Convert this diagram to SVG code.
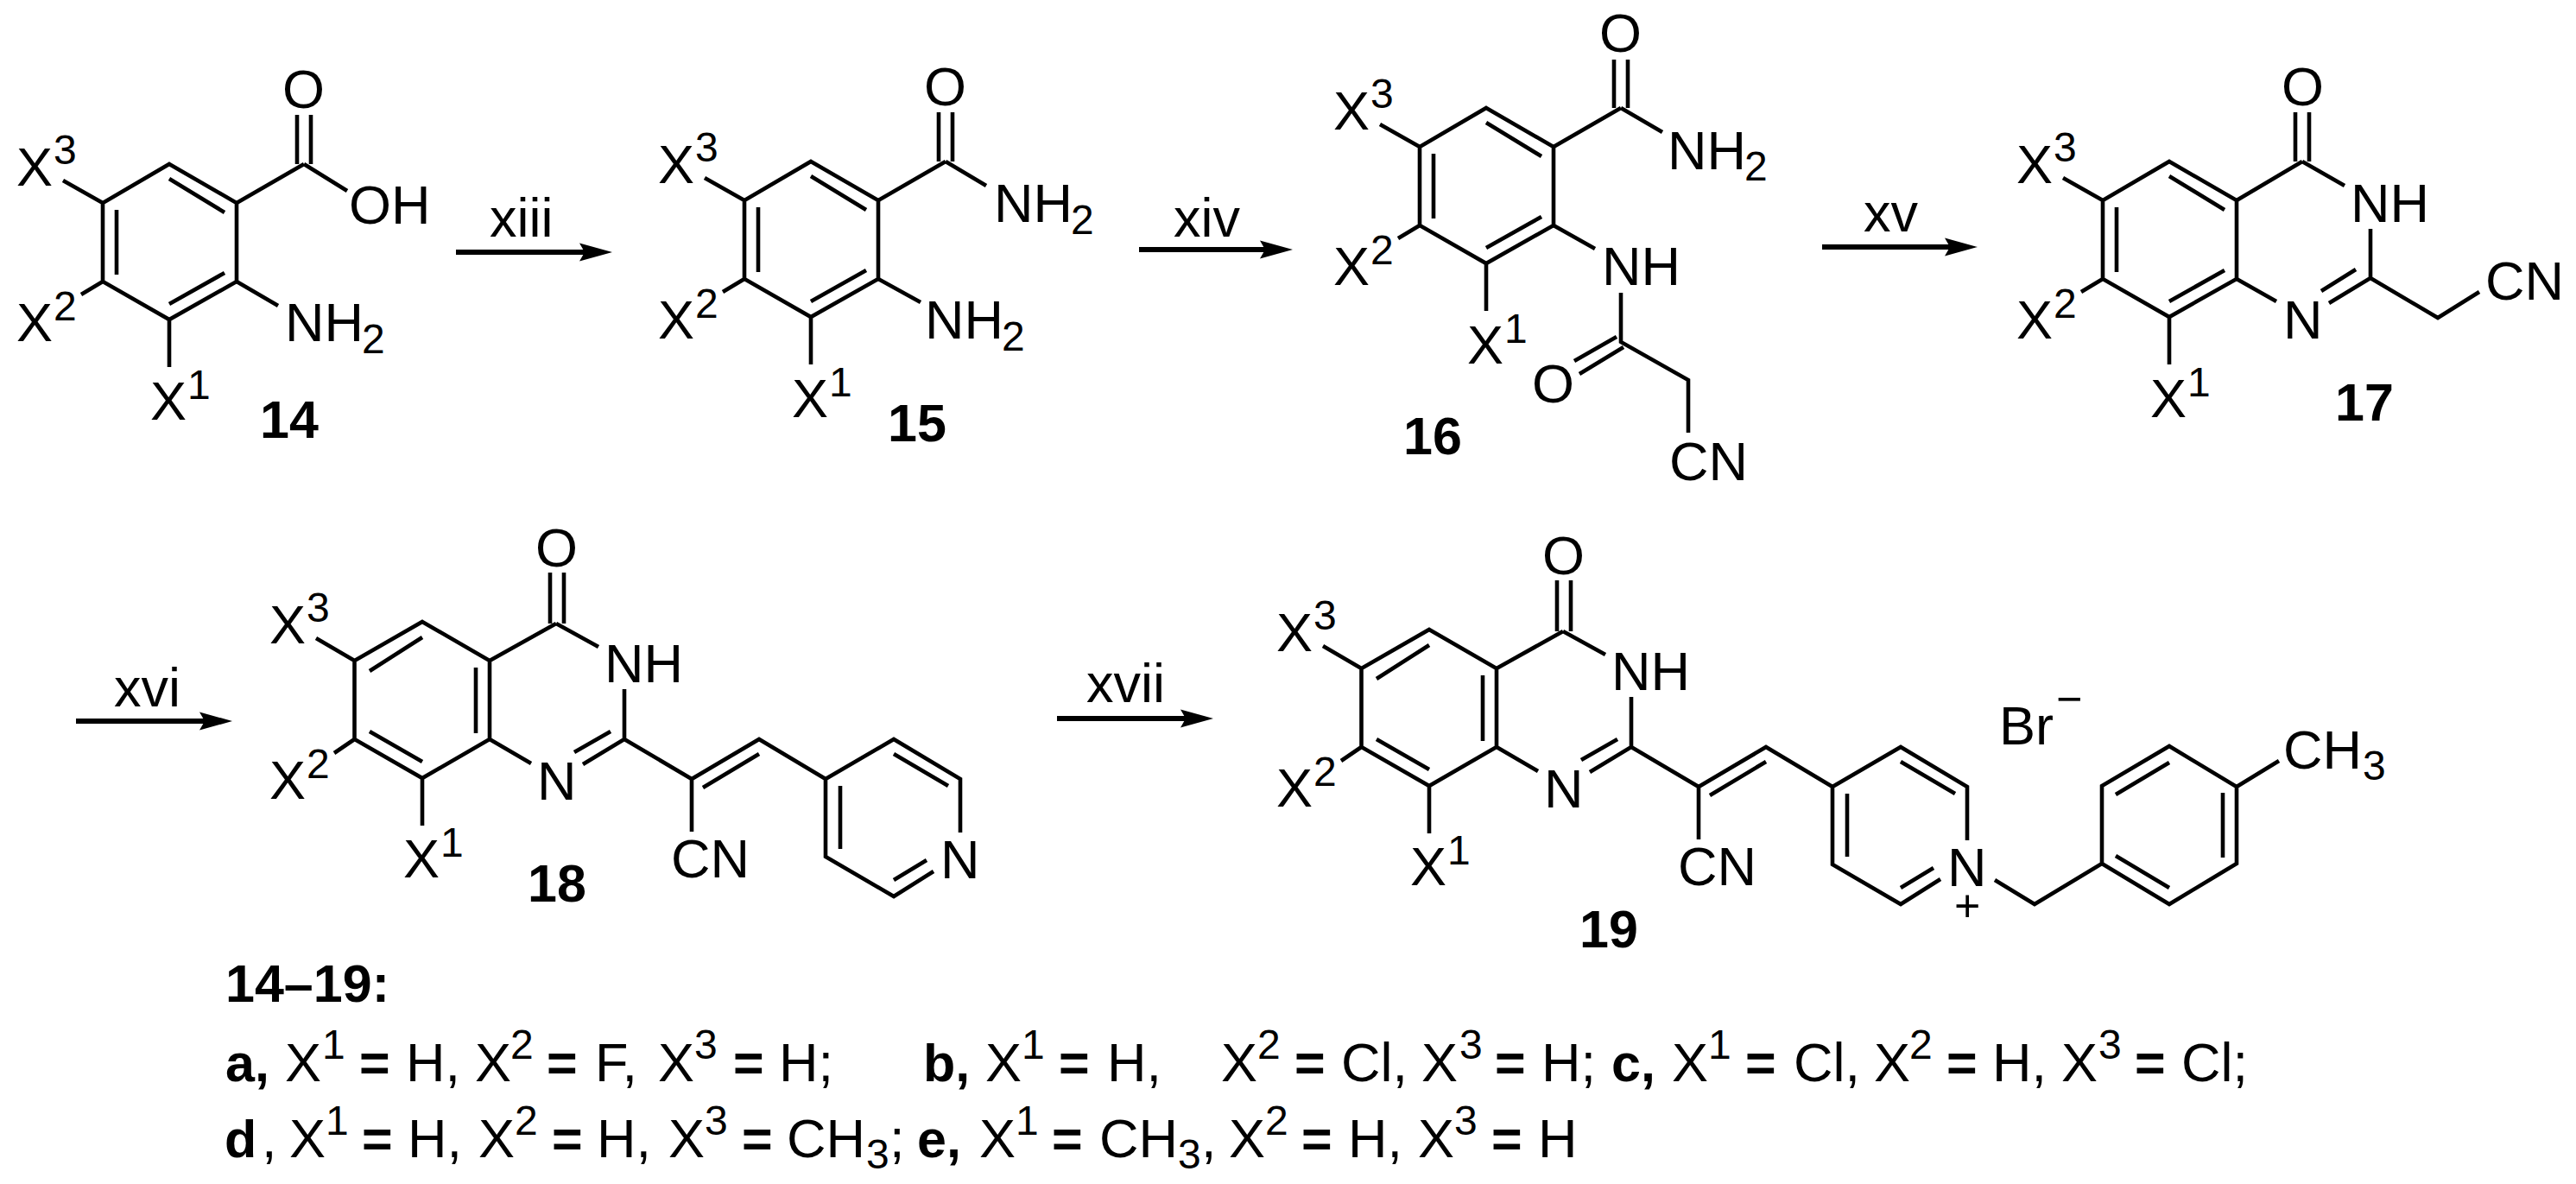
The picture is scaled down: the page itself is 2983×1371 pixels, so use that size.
<svg xmlns="http://www.w3.org/2000/svg" xmlns:xlink="http://www.w3.org/1999/xlink" width="2983" height="1371" viewBox="0 0 2983 1371">
<style>
text{font-family:"Liberation Sans",Arial,sans-serif;font-size:63px;fill:#000}
.s{font-size:48px}.b{font-weight:700;font-size:61px}.c{font-size:52px}
.bond{fill:none;stroke:#000;stroke-width:4.6;stroke-linejoin:miter;stroke-linecap:butt}
.arrow{stroke:#000;stroke-width:6;fill:none}
</style>
<defs>
<marker id="ah" markerUnits="userSpaceOnUse" markerWidth="40" markerHeight="24" refX="6" refY="12" orient="auto" viewBox="0 0 40 24"><path d="M0 1.5L38 12L0 22.5L6 12Z" fill="#000"/></marker>
<path id="ringA" class="bond" d="M196 190L274 235V326L196 370L119 326V235ZM196 207L260 246M135 243V318M196 352L260 316M119 235L73 209M119 326L94 341M196 370V425"/>
<path id="coreB" class="bond" d="M489 720L567 765V856L489 901L410.5 856V765ZM489 738L428 777M551 773V849M428 847L489 882M410.5 765L366 739M410.5 856L387 872M489 901V956M567 765L644 722M644 722L693 749M637 663V722M653 663V722M723 798V856L675 885M707 847L665 871M567 856L615 884M723 856L801 902L879 856L956 902M879 873L814 912M801 902V963M956 902L1035 856L1112 902V964M956 902V992L1035 1038L1081 1009M1035 873L1098 910M973 910V983M1035 1019L1073 996"/>
</defs>
<g id="connectors">
<line class="arrow" x1="528" y1="292" x2="677" y2="292" marker-end="url(#ah)"/>
<line class="arrow" x1="1319" y1="289" x2="1465" y2="289" marker-end="url(#ah)"/>
<line class="arrow" x1="2110" y1="286" x2="2258" y2="286" marker-end="url(#ah)"/>
<line class="arrow" x1="88" y1="835" x2="237" y2="835" marker-end="url(#ah)"/>
<line class="arrow" x1="1224" y1="832" x2="1373" y2="832" marker-end="url(#ah)"/>
<text x="567" y="274">xiii</text>
<text x="1359" y="274">xiv</text>
<text x="2158" y="268">xv</text>
<text x="132" y="818">xvi</text>
<text x="1258" y="813">xvii</text>
</g>
<g id="compound-14">
<use href="#ringA" xlink:href="#ringA"/>
<path class="bond" d="M274 235L352 190M344 133V190M360 133V190M352 190L402 221M274 326L322 354"/>
<text x="327" y="125">O</text>
<text x="404" y="259">OH</text>
<text x="330" y="395">NH<tspan class="s" x="419" y="409">2</tspan></text>
<text x="19" y="215">X<tspan class="s" dx="1" dy="-25">3</tspan></text>
<text x="19" y="395">X<tspan class="s" dx="1" dy="-24">2</tspan></text>
<text x="174" y="486">X<tspan class="s" dx="1" dy="-24">1</tspan></text>
<text class="b" x="301" y="507">14</text>
</g>
<g id="compound-15">
<use href="#ringA" xlink:href="#ringA" transform="translate(743,-3)"/>
<path class="bond" d="M1017 232L1095 187M1087 130V187M1103 130V187M1095 187L1142 215M1017 323L1066 350"/>
<text x="1070" y="122">O</text>
<text x="1151" y="257">NH<tspan class="s" x="1240" y="271">2</tspan></text>
<text x="1071" y="392">NH<tspan class="s" x="1160" y="406">2</tspan></text>
<text x="762" y="212">X<tspan class="s" dx="1" dy="-25">3</tspan></text>
<text x="762" y="392">X<tspan class="s" dx="1" dy="-24">2</tspan></text>
<text x="917" y="483">X<tspan class="s" dx="1" dy="-24">1</tspan></text>
<text class="b" x="1028" y="511">15</text>
</g>
<g id="compound-16">
<use href="#ringA" xlink:href="#ringA" transform="translate(1525,-65)"/>
<path class="bond" d="M1799 170L1877 125M1869 69V125M1885 69V125M1877 125L1925 153M1799 261L1847 288M1877 339V396L1955 440V501M1872 390L1823 418M1880 402L1829 433"/>
<text x="1852" y="60">O</text>
<text x="1931" y="196">NH<tspan class="s" x="2020" y="209">2</tspan></text>
<text x="1855" y="330">NH</text>
<text x="1774" y="466">O</text>
<text x="1933" y="556">CN</text>
<text x="1544" y="150">X<tspan class="s" dx="1" dy="-25">3</tspan></text>
<text x="1544" y="330">X<tspan class="s" dx="1" dy="-24">2</tspan></text>
<text x="1699" y="421">X<tspan class="s" dx="1" dy="-24">1</tspan></text>
<text class="b" x="1625" y="526">16</text>
</g>
<g id="compound-17">
<use href="#ringA" xlink:href="#ringA" transform="translate(2316,-3)"/>
<path class="bond" d="M2590 232L2666 187M2658 130V187M2674 130V187M2666 187L2715 215M2745 265V322L2697 351M2728 312L2688 337M2590 323L2636 349M2745 322L2823 368L2871 338"/>
<text x="2642" y="122">O</text>
<text x="2722" y="257">NH</text>
<text x="2644" y="392">N</text>
<text x="2878" y="347">CN</text>
<text x="2335" y="212">X<tspan class="s" dx="1" dy="-25">3</tspan></text>
<text x="2335" y="392">X<tspan class="s" dx="1" dy="-24">2</tspan></text>
<text x="2490" y="483">X<tspan class="s" dx="1" dy="-24">1</tspan></text>
<text class="b" x="2704" y="487">17</text>
</g>
<g id="compound-18">
<use href="#coreB" xlink:href="#coreB"/>
<text x="620" y="656">O</text>
<text x="700" y="790">NH</text>
<text x="622" y="926">N</text>
<text x="777" y="1016">CN</text>
<text x="1089" y="1017">N</text>
<text x="312" y="745">X<tspan class="s" dx="1" dy="-25">3</tspan></text>
<text x="312" y="925">X<tspan class="s" dx="1" dy="-24">2</tspan></text>
<text x="467" y="1016">X<tspan class="s" dx="1" dy="-24">1</tspan></text>
<text class="b" x="611" y="1044">18</text>
</g>
<g id="compound-19">
<use href="#coreB" xlink:href="#coreB" transform="translate(1166,9)"/>
<path class="bond" d="M2310 1019L2356 1047L2434 1000V910L2512 864L2590 911V1000L2512 1047L2434 1000M2450 920L2512 883M2574 918V993M2450 991L2512 1028M2590 911L2639 881"/>
<text x="1786" y="665">O</text>
<text x="1866" y="799">NH</text>
<text x="1788" y="935">N</text>
<text x="1943" y="1025">CN</text>
<text x="2255" y="1026">N</text>
<text class="c" x="2263" y="1067">+</text>
<text x="2315" y="862">Br</text>
<text class="c" x="2381" y="827">−</text>
<text x="2644" y="890">CH<tspan class="s" x="2736" y="903">3</tspan></text>
<text x="1478" y="754">X<tspan class="s" dx="1" dy="-25">3</tspan></text>
<text x="1478" y="934">X<tspan class="s" dx="1" dy="-24">2</tspan></text>
<text x="1633" y="1025">X<tspan class="s" dx="1" dy="-24">1</tspan></text>
<text class="b" x="1829" y="1097">19</text>
</g>
<g id="legend">
<text class="b" x="261" y="1160">14–19:</text>
<text y="1252"><tspan class="b" x="261">a,</tspan><tspan x="330">X</tspan><tspan class="s" x="373" y="1226">1</tspan><tspan class="b" x="416" y="1252">=</tspan><tspan x="470">H,</tspan><tspan x="550">X</tspan><tspan class="s" x="591" y="1226">2</tspan><tspan class="b" x="633" y="1252">=</tspan><tspan x="689">F,</tspan><tspan x="762">X</tspan><tspan class="s" x="804" y="1226">3</tspan><tspan class="b" x="849" y="1252">=</tspan><tspan x="902">H;</tspan></text>
<text y="1252"><tspan class="b" x="1069">b,</tspan><tspan x="1141">X</tspan><tspan class="s" x="1183" y="1226">1</tspan><tspan class="b" x="1226" y="1252">=</tspan><tspan x="1282">H,</tspan><tspan x="1414">X</tspan><tspan class="s" x="1456" y="1226">2</tspan><tspan class="b" x="1499" y="1252">=</tspan><tspan x="1553">Cl,</tspan><tspan x="1646">X</tspan><tspan class="s" x="1690" y="1226">3</tspan><tspan class="b" x="1731" y="1252">=</tspan><tspan x="1785">H;</tspan></text>
<text y="1252"><tspan class="b" x="1866">c,</tspan><tspan x="1936">X</tspan><tspan class="s" x="1978" y="1226">1</tspan><tspan class="b" x="2021" y="1252">=</tspan><tspan x="2077">Cl,</tspan><tspan x="2170">X</tspan><tspan class="s" x="2211" y="1226">2</tspan><tspan class="b" x="2254" y="1252">=</tspan><tspan x="2307">H,</tspan><tspan x="2387">X</tspan><tspan class="s" x="2430" y="1226">3</tspan><tspan class="b" x="2472" y="1252">=</tspan><tspan x="2526">Cl;</tspan></text>
<text y="1340"><tspan class="b" x="260">d</tspan><tspan x="303">,</tspan><tspan x="335">X</tspan><tspan class="s" x="377" y="1314">1</tspan><tspan class="b" x="419" y="1340">=</tspan><tspan x="472">H,</tspan><tspan x="554">X</tspan><tspan class="s" x="596" y="1314">2</tspan><tspan class="b" x="639" y="1340">=</tspan><tspan x="691">H,</tspan><tspan x="774">X</tspan><tspan class="s" x="816" y="1314">3</tspan><tspan class="b" x="859" y="1340">=</tspan><tspan x="911">CH</tspan><tspan class="s" x="1003" y="1353">3</tspan><tspan x="1030" y="1340">;</tspan></text>
<text y="1340"><tspan class="b" x="1062">e,</tspan><tspan x="1134">X</tspan><tspan class="s" x="1176" y="1314">1</tspan><tspan class="b" x="1218" y="1340">=</tspan><tspan x="1273">CH</tspan><tspan class="s" x="1364" y="1353">3</tspan><tspan x="1391" y="1340">,</tspan><tspan x="1423">X</tspan><tspan class="s" x="1465" y="1314">2</tspan><tspan class="b" x="1507" y="1340">=</tspan><tspan x="1561">H,</tspan><tspan x="1642">X</tspan><tspan class="s" x="1684" y="1314">3</tspan><tspan class="b" x="1727" y="1340">=</tspan><tspan x="1781">H</tspan></text>
</g>
</svg>
